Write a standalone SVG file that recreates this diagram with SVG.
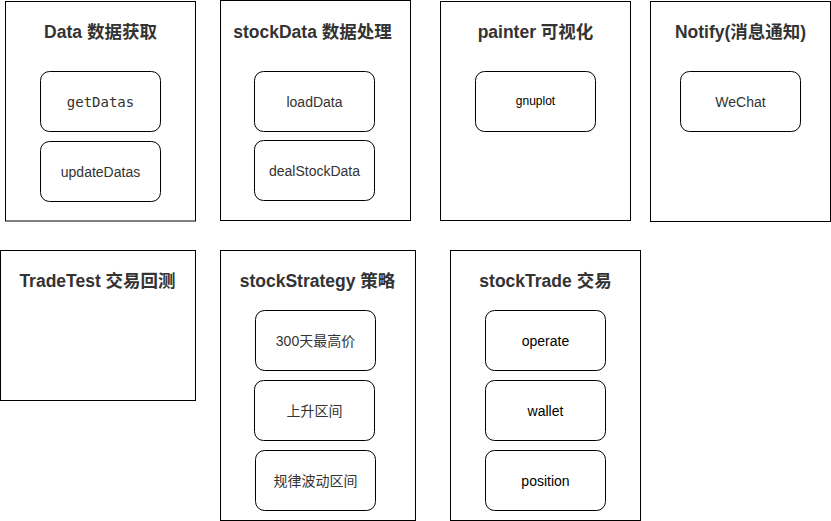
<svg xmlns="http://www.w3.org/2000/svg" width="831" height="521" viewBox="0 0 831 521">
<style>
.box{fill:#fff;stroke:#000;stroke-width:1}
.item{fill:#fff;stroke:#000;stroke-width:1}
.title{font-family:"Liberation Sans","Noto Sans CJK SC",sans-serif;font-weight:bold;font-size:17.5px;fill:#333;text-anchor:middle}
.lbl{font-family:"Liberation Sans","Noto Sans CJK SC",sans-serif;font-size:14px;fill:#333;text-anchor:middle}
.lblk{font-family:"Liberation Sans","Noto Sans CJK SC",sans-serif;font-size:14px;fill:#000;text-anchor:middle}
.mono{font-family:"DejaVu Sans Mono","Liberation Mono",monospace;font-size:14px;fill:#333;text-anchor:middle}
</style>
<rect width="831" height="521" fill="#fff"/>
<g id="data">
<rect class="box" x="5.5" y="1.5" width="190" height="219.5"/>
<text class="title" x="100.5" y="38">Data 数据获取</text>
<g id="getDatas"><rect class="item" x="40.5" y="71.5" width="120" height="60" rx="9"/><text class="mono" x="100.5" y="107">getDatas</text></g>
<g id="updateDatas"><rect class="item" x="40.5" y="141.5" width="120" height="60" rx="9"/><text class="lbl" x="100.5" y="177">updateDatas</text></g>
</g>
<g id="stockData">
<rect class="box" x="220.5" y="0.5" width="190" height="220"/>
<text class="title" x="312.5" y="38">stockData 数据处理</text>
<g id="loadData"><rect class="item" x="254.5" y="71.5" width="120" height="60" rx="9"/><text class="lbl" x="314.5" y="107">loadData</text></g>
<g id="dealStockData"><rect class="item" x="254.5" y="140.5" width="120" height="60" rx="9"/><text class="lbl" x="314.5" y="176">dealStockData</text></g>
</g>
<g id="painter">
<rect class="box" x="440.5" y="1.5" width="190" height="219"/>
<text class="title" x="535.5" y="38">painter 可视化</text>
<g id="gnuplot"><rect class="item" x="475.5" y="71.5" width="120" height="60" rx="9"/><text class="lblk" style="font-size:12px" x="535.5" y="105">gnuplot</text></g>
</g>
<g id="notify">
<rect class="box" x="650.5" y="1.5" width="180" height="220"/>
<text class="title" x="740.5" y="38">Notify(消息通知)</text>
<g id="wechat"><rect class="item" x="680.5" y="71.5" width="120" height="60" rx="9"/><text class="lbl" x="740.5" y="107">WeChat</text></g>
</g>
<g id="tradeTest">
<rect class="box" x="0.5" y="250.5" width="195" height="150"/>
<text class="title" x="97.5" y="287">TradeTest 交易回测</text>
</g>
<g id="stockStrategy">
<rect class="box" x="220.5" y="250.5" width="195" height="270"/>
<text class="title" x="317.5" y="287">stockStrategy 策略</text>
<g id="s300"><rect class="item" x="255.5" y="310.5" width="120" height="60" rx="9"/><text class="lbl" x="315.5" y="346">300天最高价</text></g>
<g id="rise"><rect class="item" x="254.5" y="380.5" width="120" height="60" rx="9"/><text class="lbl" x="314.5" y="416">上升区间</text></g>
<g id="wave"><rect class="item" x="255.5" y="450.5" width="120" height="60" rx="9"/><text class="lbl" x="315.5" y="486">规律波动区间</text></g>
</g>
<g id="stockTrade">
<rect class="box" x="450.5" y="250.5" width="190" height="270"/>
<text class="title" x="545.5" y="287">stockTrade 交易</text>
<g id="operate"><rect class="item" x="485.5" y="310.5" width="120" height="60" rx="9"/><text class="lblk" x="545.5" y="346">operate</text></g>
<g id="wallet"><rect class="item" x="485.5" y="380.5" width="120" height="60" rx="9"/><text class="lblk" x="545.5" y="416">wallet</text></g>
<g id="position"><rect class="item" x="485.5" y="450.5" width="120" height="60" rx="9"/><text class="lblk" x="545.5" y="486">position</text></g>
</g>
<g id="connectors"></g>
</svg>
